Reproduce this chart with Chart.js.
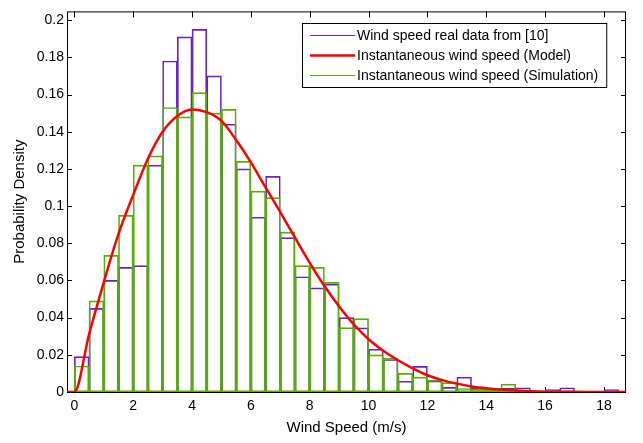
<!DOCTYPE html>
<html>
<head>
<meta charset="utf-8">
<script src="https://cdn.jsdelivr.net/npm/chart.js@4.4.1/dist/chart.umd.min.js"></script>
<style>
  html, body { margin: 0; padding: 0; background: #fff; }
</style>
</head>
<body>
<canvas id="myChart" width="643" height="443"></canvas>
<script>
// histogram bins (centres, width 0.5 m/s)
const binCenters = [0.25, 0.75, 1.25, 1.75, 2.25, 2.75, 3.25, 3.75, 4.25, 4.75,
    5.25, 5.75, 6.25, 6.75, 7.25, 7.75, 8.25, 8.75, 9.25, 9.75,
    10.25, 10.75, 11.25, 11.75, 12.25, 12.75, 13.25, 13.75, 14.25, 14.75,
    15.25, 15.75, 16.25, 16.75, 17.25, 17.75, 18.25];
const realData = [0.019, 0.045, 0.060, 0.067, 0.068, 0.122, 0.178, 0.191, 0.195, 0.170,
    0.144, 0.120, 0.094, 0.116, 0.083, 0.062, 0.056, 0.058, 0.040, 0.0345,
    0.023, 0.0175, 0.0058, 0.0138, 0.0059, 0.0025, 0.0080, 0.0022, 0.0015, 0.0021,
    0.0023, 0.0005, 0.0013, 0.0023, 0.0003, 0.0003, 0.0013];
const simData = [0.014, 0.049, 0.0735, 0.095, 0.122, 0.127, 0.153, 0.148, 0.161, 0.150,
    0.152, 0.124, 0.108, 0.1045, 0.086, 0.068, 0.067, 0.059, 0.0346, 0.0395,
    0.020, 0.0182, 0.010, 0.008, 0.0064, 0.005, 0.0019, 0.0015, 0.0014, 0.0042,
    0.001, 0.0005, 0.0003, 0, 0, 0, 0];
// model curve
const modelX = [-0.25, 0, 0.5, 1, 1.5, 2, 2.5, 3, 3.5, 4, 4.5, 5, 5.5, 6, 6.5, 7, 7.5, 8, 8.5, 9,
    9.5, 10, 10.5, 11, 11.5, 12, 12.5, 13, 13.5, 14, 14.5, 15, 15.5, 16, 17, 18, 18.75];
const modelY = [0, 0, 0.031, 0.059, 0.085, 0.106, 0.1255, 0.140, 0.1485, 0.152, 0.1505, 0.1458, 0.1355,
    0.1235, 0.110, 0.0967, 0.083, 0.0695, 0.057, 0.046, 0.0363, 0.0284, 0.0222, 0.0171, 0.0127,
    0.0090, 0.0064, 0.0045, 0.0030, 0.0020, 0.0013, 0.0008, 0.0004, 0.0002, 0.0001, 0, 0];

const xTicks = [0, 2, 4, 6, 8, 10, 12, 14, 16, 18];
const yTicks = [0, 0.02, 0.04, 0.06, 0.08, 0.1, 0.12, 0.14, 0.16, 0.18, 0.2];
const yTickLabels = ['0', '0.02', '0.04', '0.06', '0.08', '0.1', '0.12', '0.14', '0.16', '0.18', '0.2'];
const seriesLabels = ['Wind speed real data from [10]', 'Instantaneous wind speed (Model)', 'Instantaneous wind speed (Simulation)'];

const FONT = '"Liberation Sans", Arial, sans-serif';
Chart.defaults.font.family = FONT;
Chart.defaults.color = '#000';

// frame + inward tick marks like a matlab axes box
const insideTicks = {
    id: 'insideTicks',
    beforeDatasetsDraw(chart) {
        const {ctx, chartArea: a, scales: {x, y}} = chart;
        ctx.save();
        ctx.strokeStyle = '#000';
        ctx.lineWidth = 1;
        ctx.beginPath();
        xTicks.forEach(v => {
            const px = Math.round(x.getPixelForValue(v)) + 0.5;
            ctx.moveTo(px, a.bottom); ctx.lineTo(px, a.bottom - 5);
            ctx.moveTo(px, a.top); ctx.lineTo(px, a.top + 6);
        });
        yTicks.forEach(v => {
            const py = Math.round(y.getPixelForValue(v)) + 0.5;
            ctx.moveTo(a.left, py); ctx.lineTo(a.left + 5, py);
            ctx.moveTo(a.right, py); ctx.lineTo(a.right - 5, py);
        });
        ctx.stroke();
        ctx.strokeRect(a.left + 0.5, a.top + 0.5, a.right - a.left - 1, a.bottom - a.top);
        ctx.restore();
    }
};

const boxLegend = {
    id: 'boxLegend',
    afterDraw(chart) {
        const {ctx} = chart;
        const sets = chart.data.datasets;
        ctx.save();
        ctx.font = '14px ' + FONT;
        const textX = 357;
        let maxW = 0;
        sets.forEach(d => { maxW = Math.max(maxW, ctx.measureText(d.label).width); });
        const left = 302, top = 23, bottom = 87;
        const right = textX + maxW + 8;
        ctx.fillStyle = '#fff';
        ctx.fillRect(left, top, right - left, bottom - top);
        ctx.strokeStyle = '#000';
        ctx.lineWidth = 1;
        ctx.strokeRect(left + 0.5, top + 0.5, right - left, bottom - top);
        sets.forEach((d, i) => {
            const yy = 35 + i * 20;
            ctx.strokeStyle = d.borderColor;
            ctx.lineWidth = d.borderWidth;
            ctx.beginPath();
            ctx.moveTo(310, yy + 0.5);
            ctx.lineTo(355, yy + 0.5);
            ctx.stroke();
            ctx.fillStyle = '#000';
            ctx.textBaseline = 'middle';
            ctx.fillText(d.label, textX, yy + 1);
        });
        ctx.restore();
    }
};

const ctx = document.getElementById('myChart').getContext('2d');
const myChart = new Chart(ctx, {
    type: 'bar',
    data: {
        datasets: [{
            type: 'bar',
            label: seriesLabels[0],
            data: binCenters.map((c, i) => ({x: c, y: realData[i]})),
            backgroundColor: 'rgba(0,0,0,0)',
            borderColor: '#6a22c8',
            borderWidth: 1,
            borderSkipped: false,
            grouped: false,
            barPercentage: 1,
            categoryPercentage: 1,
            order: 3
        }, {
            type: 'line',
            label: seriesLabels[1],
            data: modelX.map((v, i) => ({x: v, y: modelY[i]})),
            borderColor: '#ff0000',
            borderWidth: 2.5,
            pointRadius: 0,
            cubicInterpolationMode: 'monotone',
            fill: false,
            order: 1
        }, {
            type: 'bar',
            label: seriesLabels[2],
            data: binCenters.map((c, i) => ({x: c, y: simData[i]})),
            backgroundColor: 'rgba(0,0,0,0)',
            borderColor: '#55b000',
            borderWidth: 1,
            borderSkipped: false,
            grouped: false,
            barPercentage: 1,
            categoryPercentage: 1,
            order: 2
        }]
    },
    options: {
        responsive: false,
        animation: false,
        devicePixelRatio: 1,
        layout: { padding: { top: 3, right: 17, bottom: 0, left: 0 } },
        plugins: { legend: { display: false }, tooltip: { enabled: false } },
        scales: {
            x: {
                type: 'linear',
                min: -0.25,
                max: 18.75,
                offset: false,
                grid: { display: false, drawTicks: false },
                border: { display: false },
                afterBuildTicks: s => { s.ticks = xTicks.map(v => ({value: v})); },
                afterFit: s => { s.height = 51; },
                ticks: { font: { size: 14 }, padding: 6, maxRotation: 0, autoSkip: false },
                title: { display: true, text: 'Wind Speed (m/s)', font: { size: 15 }, padding: { top: 0, bottom: 6 } }
            },
            y: {
                min: 0,
                max: 0.2047,
                grid: { display: false, drawTicks: false },
                border: { display: false },
                afterBuildTicks: s => { s.ticks = yTicks.map(v => ({value: v})); },
                afterFit: s => { s.width = 67; },
                ticks: {
                    font: { size: 14 },
                    padding: 3,
                    autoSkip: false,
                    callback: (value, index) => yTickLabels[index]
                },
                title: { display: true, text: 'Probability Density', font: { size: 15 }, padding: { top: 11, bottom: 0 } }
            }
        }
    },
    plugins: [insideTicks, boxLegend]
});
</script>
</body>
</html>
